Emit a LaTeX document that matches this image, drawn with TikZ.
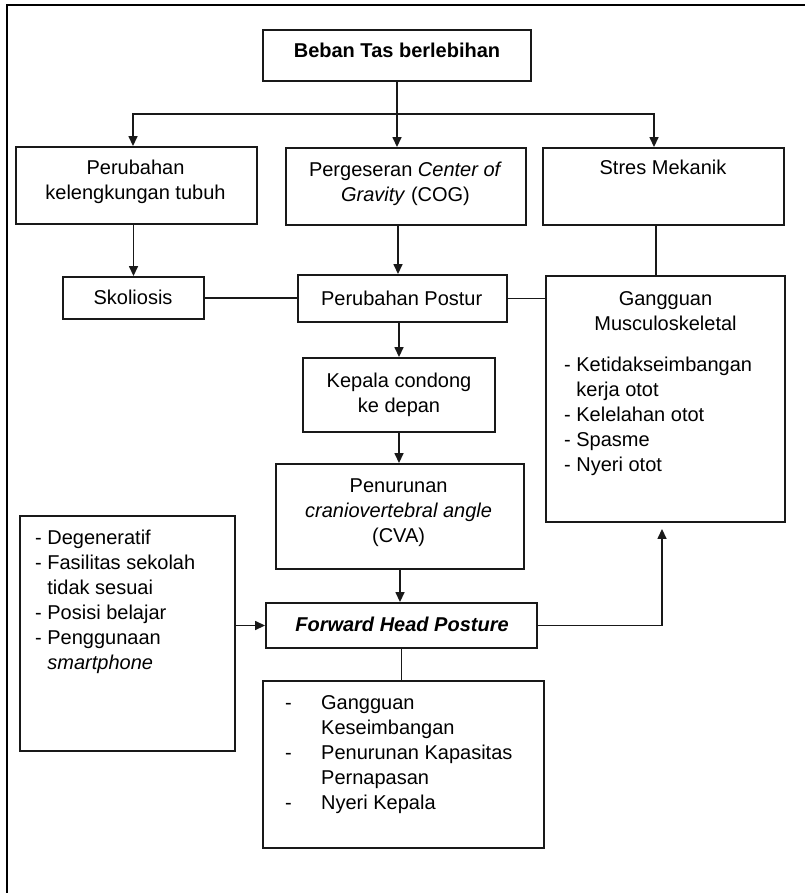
\documentclass[tikz,border=0pt]{standalone}
\usepackage{fontspec}
\setmainfont{Liberation Sans}
\usetikzlibrary{arrows.meta}
\newcommand{\cbox}[1]{\begin{tabular}{@{}c@{}}#1\end{tabular}}
\newcommand{\lbox}[1]{\begin{tabular}{@{}l@{}}#1\end{tabular}}
\begin{document}
\begin{tikzpicture}[x=1pt,y=-1pt,
  bx/.style={draw=black!90, line width=1.9pt, inner sep=0pt},
  txt/.style={inner sep=0pt, font=\fontsize{20}{25}\selectfont},
  conn/.style={draw=black!90, line width=1.5pt},
  arr/.style={conn, -{Triangle[length=10pt,width=9pt]}}]
\useasboundingbox (0,0) rectangle (805,893);
% frame
\coordinate (fbl) at (7,893);
\coordinate (ftl) at (7,5);
\coordinate (ftr) at (805,5);
\draw[line width=1.9pt] (fbl) -- (ftl) -- (ftr);
% boxes
\node[bx, minimum width=268pt, minimum height=51pt] (beban) at (397,55.5) {};
\node[bx, minimum width=241pt, minimum height=77pt] (kel) at (136.5,185.5) {};
\node[bx, minimum width=240pt, minimum height=77pt] (cog) at (406,186.5) {};
\node[bx, minimum width=241pt, minimum height=77pt] (stres) at (663.5,186.5) {};
\node[bx, minimum width=141pt, minimum height=42pt] (skol) at (133.5,298) {};
\node[bx, minimum width=209pt, minimum height=47pt] (postur) at (402.5,298.5) {};
\node[bx, minimum width=239pt, minimum height=246pt] (musk) at (665.5,399) {};
\node[bx, minimum width=192pt, minimum height=74pt] (kepala) at (399,395) {};
\node[bx, minimum width=248pt, minimum height=105pt] (cva) at (400,516.5) {};
\node[bx, minimum width=215pt, minimum height=235pt] (faktor) at (127.5,633.5) {};
\node[bx, minimum width=271pt, minimum height=45pt] (fhp) at (401.5,625.5) {};
\node[bx, minimum width=281pt, minimum height=167pt] (dampak) at (403.5,764.5) {};
% texts
\node[txt, anchor=base] (beban-t) at (397,58) {\textbf{Beban Tas berlebihan}};
\node[txt, anchor=north] (kel-t) at (135.5,156.5) {\cbox{Perubahan\\kelengkungan tubuh}};
\node[txt, anchor=north] (cog-t) at (405.5,158.5) {\cbox{Pergeseran \textit{Center of}\\\textit{Gravity} (COG)}};
\node[txt, anchor=base] (stres-t) at (663,175) {Stres Mekanik};
\node[txt, anchor=base] (skol-t) at (133,304) {Skoliosis};
\node[txt, anchor=base] (postur-t) at (401.7,305) {Perubahan Postur};
\node[txt, anchor=north] (musk-t) at (665.5,287.5) {\cbox{Gangguan\\Musculoskeletal}};
\node[txt, anchor=north west] (musk-l) at (564,353.5) {\lbox{- Ketidakseimbangan\\\phantom{- }kerja otot\\- Kelelahan otot\\- Spasme\\- Nyeri otot}};
\node[txt, anchor=north] (kepala-t) at (399,369.5) {\cbox{Kepala condong\\ke depan}};
\node[txt, anchor=north] (cva-t) at (398.6,474.5) {\cbox{Penurunan\\\textit{craniovertebral angle}\\(CVA)}};
\node[txt, anchor=north west] (faktor-l) at (35,526.5) {\lbox{- Degeneratif\\- Fasilitas sekolah\\\phantom{- }tidak sesuai\\- Posisi belajar\\- Penggunaan\\\phantom{- }\textit{smartphone}}};
\node[txt, anchor=base] (fhp-t) at (402,631) {\textbf{\textit{Forward Head Posture}}};
\node[txt, anchor=north west] (dampak-l) at (285,691.5) {\begin{tabular}{@{}p{36pt}@{}l@{}}-&Gangguan\\&Keseimbangan\\-&Penurunan Kapasitas\\&Pernapasan\\-&Nyeri Kepala\end{tabular}};
% connectors
\coordinate (split) at (beban.south |- 0,114);
\draw[arr] (beban.south) -- (beban.south |- cog.north);
\draw[arr] (split) -| ([xshift=-3.5pt]kel.north);
\draw[arr] (split) -| ([xshift=-9.5pt]stres.north);
\draw[arr] (skol.north |- kel.south) -- (skol.north);
\draw[arr] ([xshift=-4.5pt]postur.north |- cog.south) -- ([xshift=-4.5pt]postur.north);
\draw[conn] ([xshift=-7.5pt]stres.south) -- ([xshift=-7.5pt]stres.south |- musk.north);
\draw[conn] (skol.east) -- (skol.east -| postur.west);
\draw[conn] (postur.east) -- (postur.east -| musk.west);
\draw[arr] (kepala.north |- postur.south) -- (kepala.north);
\draw[arr] (kepala.south) -- (kepala.south |- cva.north);
\draw[arr] (cva.south) -- (cva.south |- fhp.north);
\draw[arr] (fhp.west -| faktor.east) -- (fhp.west);
\draw[arr] (fhp.east) -| ([xshift=-3.5pt,yshift=-6pt]musk.south);
\draw[conn] (fhp.south) -- (fhp.south |- dampak.north);
\end{tikzpicture}
\end{document}
